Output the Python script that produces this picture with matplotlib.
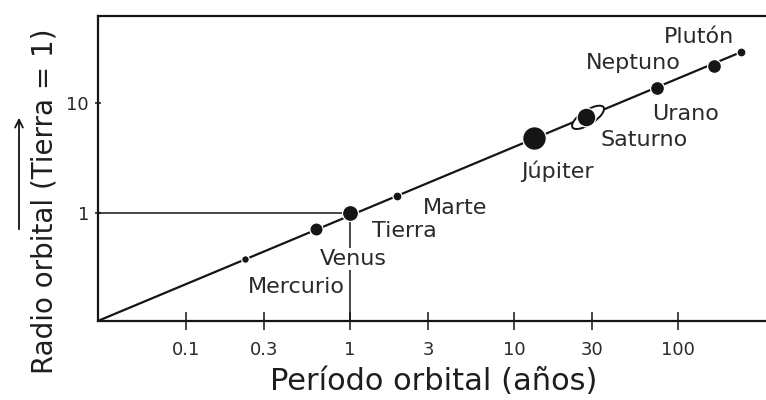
import matplotlib
matplotlib.use("Agg")
import matplotlib.pyplot as plt
from matplotlib.patches import Ellipse, FancyArrowPatch
from matplotlib.transforms import ScaledTranslation
from matplotlib.ticker import FixedLocator, FixedFormatter, NullLocator

plt.rcParams['font.family'] = ['DejaVu Sans']

# Planetary data: orbital period (years) and orbital radius (Earth = 1)
planets = ["Mercurio", "Venus", "Tierra", "Marte", "Júpiter",
           "Saturno", "Urano", "Neptuno", "Plutón"]
periods = [0.23, 0.62, 1.0, 1.94, 13.2, 27.5, 74.0, 166.0, 242.0]
radii = [0.38, 0.72, 1.0, 1.43, 4.8, 7.4, 13.7, 21.7, 29.0]

# Trend line (period-radius relation)
trend_period = [0.029, 242.0]
trend_radius = [0.104, 29.0]

x_ticks = [0.1, 0.3, 1, 3, 10, 30, 100]
x_tick_labels = ["0.1", "0.3", "1", "3", "10", "30", "100"]
y_ticks = [1, 10]
y_tick_labels = ["1", "10"]

# Styling
dot_sizes = [5.5, 9.5, 11.5, 6.5, 17, 13.5, 10, 10, 6.5]
label_offsets = [(37, -20), (27, -22), (39, -13), (42, -9), (17, -24),
                 (42, -16), (21, -19), (-58, 2), (-30, 11)]
ink = "#151515"

fig = plt.figure(figsize=(7.66, 4.0), dpi=100)
ax = fig.add_axes([98 / 766, 79 / 400, 1 - 98 / 766, 305 / 400])
ax.set_xscale("log")
ax.set_yscale("log")
ax.set_xlim(0.0291, 344)
ax.set_ylim(0.104, 61.8)

for side in ("top", "left", "bottom"):
    ax.spines[side].set_linewidth(1.6)
    ax.spines[side].set_color(ink)
ax.spines["right"].set_visible(False)

ax.xaxis.set_major_locator(FixedLocator(x_ticks))
ax.xaxis.set_major_formatter(FixedFormatter(x_tick_labels))
ax.xaxis.set_minor_locator(NullLocator())
ax.yaxis.set_major_locator(FixedLocator(y_ticks))
ax.yaxis.set_major_formatter(FixedFormatter(y_tick_labels))
ax.yaxis.set_minor_locator(NullLocator())
ax.tick_params(axis="x", direction="inout", length=13, width=1.1,
               labelsize=13, pad=8, colors=ink, labelcolor="#2a2a2a")
ax.tick_params(axis="y", direction="inout", length=5, width=1.1,
               labelsize=13, pad=4, colors=ink, labelcolor="#2a2a2a")

# Guide lines to Earth
x0 = ax.get_xlim()[0]
y0 = ax.get_ylim()[0]
ax.plot([x0, periods[2]], [radii[2], radii[2]], color=ink, lw=1.1, zorder=2)
ax.plot([periods[2], periods[2]], [y0, radii[2]], color=ink, lw=1.1, zorder=2)

# Trend line
ax.plot(trend_period, trend_radius, color=ink, lw=1.6, zorder=2,
        solid_capstyle="butt")

# Saturn's ring
ring = Ellipse((0.02, 0.0), 0.37, 0.14, angle=33, facecolor="white",
               edgecolor=ink, lw=1.4, zorder=3,
               transform=fig.dpi_scale_trans
               + ScaledTranslation(periods[5], radii[5], ax.transData))
ax.add_patch(ring)

# Planets
for name, t, r, s, (dx, dy) in zip(planets, periods, radii, dot_sizes, label_offsets):
    ax.plot([t], [r], marker="o", ms=s, color=ink, mec="white", mew=0.9,
            zorder=4, linestyle="none")
    bbox = None
    if name == "Venus":
        bbox = dict(facecolor="white", edgecolor="none", pad=0.5)
    ax.annotate(name, (t, r), xytext=(dx, dy), textcoords="offset points",
                ha="center", va="center", fontsize=16, color="#2a2a2a",
                zorder=5, bbox=bbox, annotation_clip=False)

# Axis titles
fig.text(434 / 766, 1 - 381 / 400, "Período orbital (años)", ha="center",
         va="center", fontsize=22, color="#1e1e1e")
fig.text(45 / 766, 1 - 201 / 400, "Radio orbital (Tierra = 1)", ha="center",
         va="center", fontsize=20, rotation=90, color="#1e1e1e")
fig.add_artist(FancyArrowPatch((19 / 766, 1 - 232 / 400), (19 / 766, 1 - 115 / 400),
                               transform=fig.transFigure, arrowstyle="->",
                               mutation_scale=14, lw=1.3, color=ink))

fig.savefig("out.png", dpi=100)
